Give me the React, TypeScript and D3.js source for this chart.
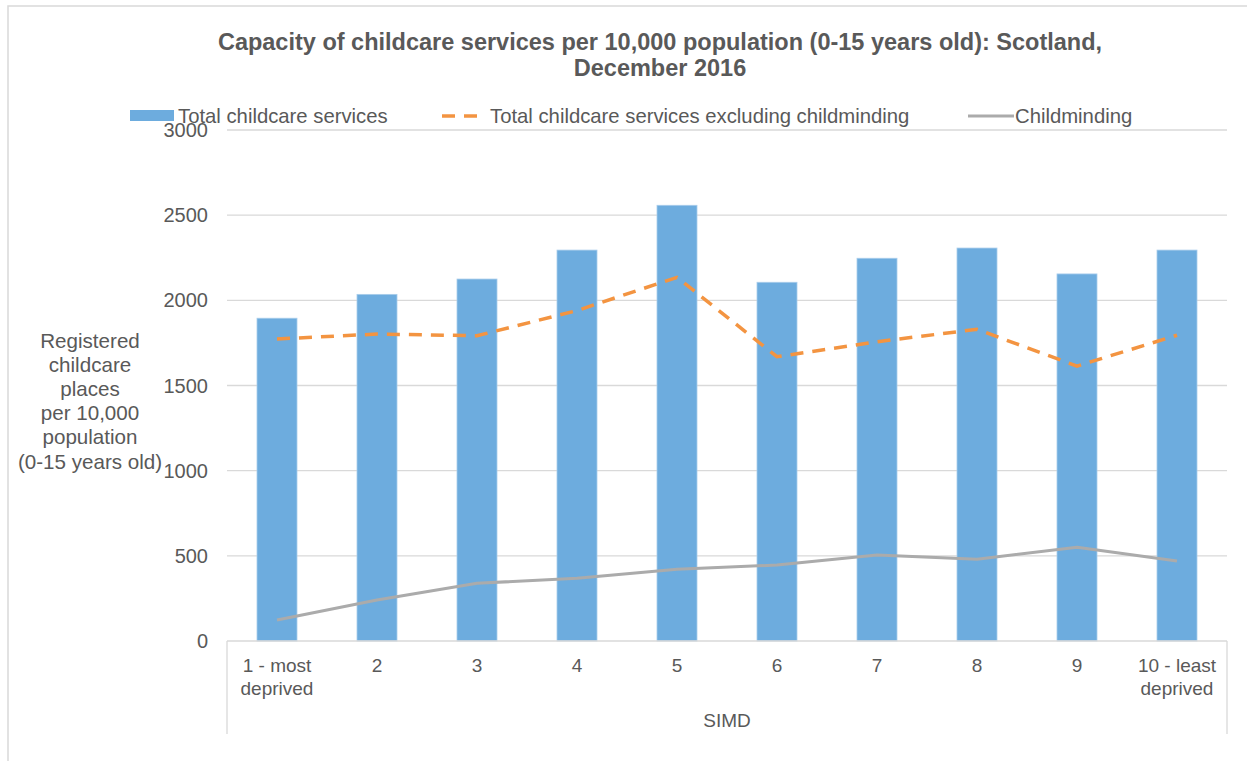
import React from "react";
import * as d3 from "d3";

const categories = ["1 - most|deprived", "2", "3", "4", "5", "6", "7", "8", "9", "10 - least|deprived"];
const totalServices = [1895, 2035, 2125, 2295, 2558, 2106, 2247, 2307, 2155, 2295];
const excludingChildminding = [1773, 1802, 1792, 1940, 2135, 1669, 1757, 1830, 1614, 1795];
const childminding = [123, 241, 339, 368, 421, 446, 505, 480, 550, 470];
const yTicks = [0, 500, 1000, 1500, 2000, 2500, 3000];
const titleLines = [
  "Capacity of childcare services per 10,000 population (0-15 years old): Scotland,",
  "December 2016",
];
const yTitleLines = ["Registered", "childcare", "places", "per 10,000", "population", "(0-15 years old)"];

const W = 1247;
const H = 761;
const plot = { left: 227, right: 1227, top: 130, bottom: 641 };
const FONT = "'Liberation Sans', Arial, sans-serif";
const TEXT = "#595959";
const GRID = "#D9D9D9";
const BLUE = "#6DACDE";
const ORANGE = "#F39441";
const GREY = "#ABABAB";

export default function App() {
  const idx = categories.map((_, i) => String(i));
  const x = d3.scaleBand<string>().domain(idx).range([plot.left, plot.right]).paddingInner(0.6).paddingOuter(0.3);
  const xc = (i: number) => (x(String(i)) as number) + x.bandwidth() / 2;
  const y = d3.scaleLinear().domain([0, 3000]).range([plot.bottom, plot.top]);
  const line = d3
    .line<number>()
    .x((_, i) => xc(i))
    .y((v) => y(v));

  return (
    <svg
      width={W}
      height={H}
      style={{ position: "absolute", left: 0, top: 0, background: "#fff" }}
      fontFamily={FONT}
    >
      <rect x={8} y={6} width={W + 10} height={H + 10} fill="#fff" stroke="#D9D9D9" strokeWidth={1.5} />

      {titleLines.map((t, i) => (
        <text key={t} x={660} y={42 + i * 25.5} textAnchor="middle" dominantBaseline="central" fontSize={23.5} fontWeight="bold" fill={TEXT}>
          {t}
        </text>
      ))}

      {/* gridlines */}
      {yTicks.slice(1).map((t) => (
        <line key={t} x1={plot.left} x2={plot.right} y1={y(t)} y2={y(t)} stroke={GRID} strokeWidth={1.3} />
      ))}

      {/* y tick labels */}
      {yTicks.map((t) => (
        <text key={t} x={208} y={y(t)} textAnchor="end" dominantBaseline="central" fontSize={20} fill={TEXT}>
          {t}
        </text>
      ))}

      {/* bars */}
      {totalServices.map((v, i) => (
        <rect
          key={i}
          x={x(String(i))}
          y={y(v)}
          width={x.bandwidth()}
          height={y(0) - y(v)}
          fill={BLUE}
          stroke="#A9CDEB"
          strokeWidth={0.8}
        />
      ))}

      {/* x axis frame */}
      <line x1={plot.left} x2={plot.right} y1={plot.bottom} y2={plot.bottom} stroke={GRID} strokeWidth={1.3} />
      <line x1={plot.left} x2={plot.left} y1={plot.bottom} y2={734} stroke={GRID} strokeWidth={1.3} />
      <line x1={plot.right} x2={plot.right} y1={plot.bottom} y2={734} stroke={GRID} strokeWidth={1.3} />

      <path d={line(excludingChildminding) ?? ""} fill="none" stroke={ORANGE} strokeWidth={3.5} strokeDasharray="13 9" />
      <path d={line(childminding) ?? ""} fill="none" stroke={GREY} strokeWidth={3} strokeLinejoin="round" />

      {/* x tick labels */}
      {categories.map((c, i) =>
        c.split("|").map((part, j) => (
          <text key={`${i}-${j}`} x={xc(i)} y={665 + j * 23} textAnchor="middle" dominantBaseline="central" fontSize={19} fill={TEXT}>
            {part}
          </text>
        ))
      )}
      <text x={(plot.left + plot.right) / 2} y={720} textAnchor="middle" dominantBaseline="central" fontSize={19} fill={TEXT}>
        SIMD
      </text>

      {/* y axis title */}
      {yTitleLines.map((t, i) => (
        <text key={t} x={90} y={340 + i * 24.2} textAnchor="middle" dominantBaseline="central" fontSize={20.6} fill={TEXT}>
          {t}
        </text>
      ))}

      {/* legend */}
      <rect x={130} y={110} width={44} height={11} fill={BLUE} />
      <text x={178} y={116} dominantBaseline="central" fontSize={20.3} fill={TEXT}>
        Total childcare services
      </text>
      <line x1={442} x2={484} y1={116} y2={116} stroke={ORANGE} strokeWidth={3.5} strokeDasharray="13 9" />
      <text x={490} y={116} dominantBaseline="central" fontSize={20.3} fill={TEXT}>
        Total childcare services excluding childminding
      </text>
      <line x1={968} x2={1014} y1={116} y2={116} stroke={GREY} strokeWidth={3} />
      <text x={1015} y={116} dominantBaseline="central" fontSize={20.3} fill={TEXT}>
        Childminding
      </text>
    </svg>
  );
}
